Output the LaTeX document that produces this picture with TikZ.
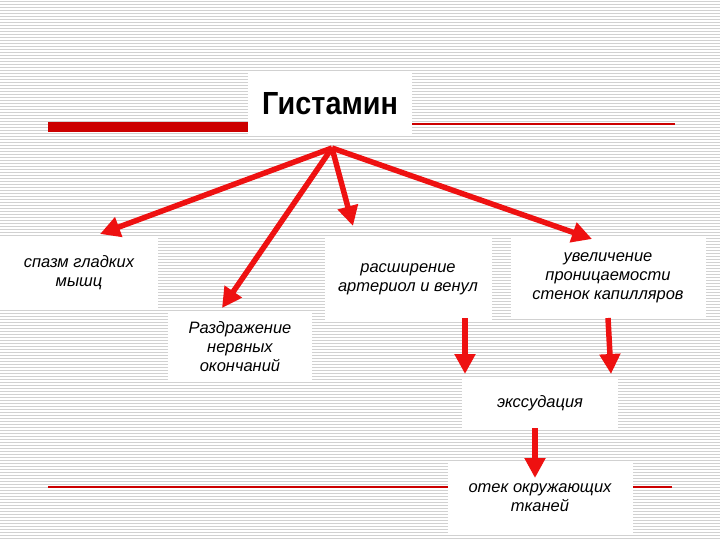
\documentclass[tikz,border=0pt]{standalone}
\usepackage{fontspec}
\setmainfont{Liberation Sans}
\usetikzlibrary{arrows.meta}
\begin{document}
\begin{tikzpicture}[x=1pt,y=-1pt,
  box/.style={fill=white,draw=none,inner sep=0pt,align=center,font=\itshape\fontsize{16.5}{19}\selectfont},
  arr/.style={draw={rgb,255:red,238;green,17;blue,17},line width=5.5pt,-{Triangle[length=20pt,width=20pt]}},
  rl/.style={draw={rgb,255:red,204;green,0;blue,0}}]
\useasboundingbox (0,0) rectangle (720,540);
\fill[white] (0,0) rectangle (720,540);
\foreach \i in {0,...,179} \draw[black!18,line width=0.8pt] (0,\i*3+1) -- (720,\i*3+1);
\draw[rl,line width=10pt] (48,127) -- (250,127);
\draw[rl,line width=1.5pt] (412,124) -- (675,124);
\draw[rl,line width=1.5pt] (48,487) -- (672,487);
\node[fill=white,minimum width=164pt,minimum height=62pt,font=\bfseries\fontsize{32}{36}\selectfont] (t) at (330,104) {\scalebox{0.9}[1]{Гистамин}};
\node[box,minimum width=158pt,minimum height=70pt] (a) at (79,273) {спазм гладких\\мышц};
\node[box,minimum width=167pt,minimum height=82pt] (b) at (408,279) {расширение\\артериол и венул};
\node[box,minimum width=195pt,minimum height=80pt] (c) at (608,278) {увеличение\\проницаемости\\стенок капилляров};
\node[box,minimum width=144pt,minimum height=70pt] (d) at (240,347) {Раздражение\\нервных\\окончаний};
\node[box,minimum width=156pt,minimum height=50pt] (e) at (540,403) {экссудация};
\node[box,minimum width=185pt,minimum height=73pt] (f) at (540,498) {отек окружающих\\тканей};
\coordinate (h) at (332,148);
\coordinate (ta) at (100,234);
\coordinate (td) at (222,308);
\coordinate (tb) at (353,226);
\coordinate (tc) at (592,239);
\draw[arr] (h) -- (ta);
\draw[arr] (h) -- (td);
\draw[arr] (h) -- (tb);
\draw[arr] (h) -- (tc);
\coordinate (b1) at (465,318); \coordinate (b2) at (465,374);
\coordinate (c1) at (608,318); \coordinate (c2) at (611,374);
\coordinate (e1) at (535,428); \coordinate (e2) at (535,478);
\draw[arr] (b1) -- (b2);
\draw[arr] (c1) -- (c2);
\draw[arr] (e1) -- (e2);
\end{tikzpicture}
\end{document}
